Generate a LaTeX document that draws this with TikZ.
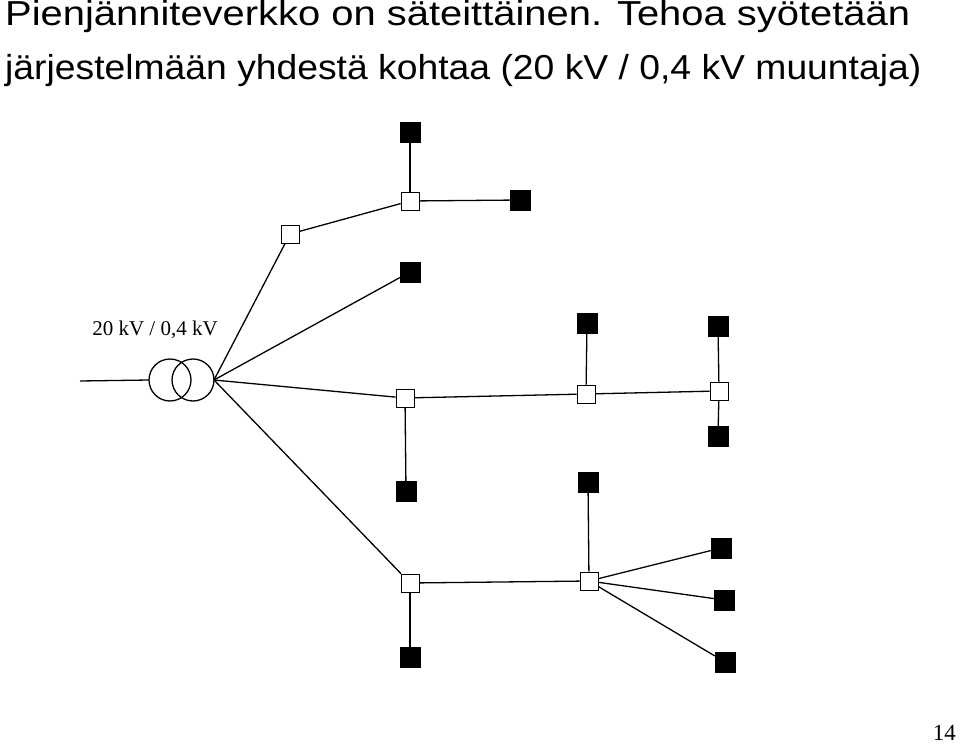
\documentclass[tikz,border=0pt]{standalone}
\usepackage{fontspec}
\usepackage{graphicx}
\setmainfont{Liberation Serif}
\setsansfont{Liberation Sans}
\begin{document}
\begin{tikzpicture}[x=1pt,y=-1pt,
  wsq/.style={draw,fill=white,minimum size=18pt,inner sep=0pt,line width=0.8pt},
  bsq/.style={draw,fill=black,minimum size=20pt,inner sep=0pt},
  ln/.style={line width=1.3pt}]
\useasboundingbox (0,0) rectangle (960,746);
\node[anchor=base west,font=\sffamily\fontsize{33}{33}\selectfont,inner sep=0pt] (t1) at (5,26) {\scalebox{1.21}[1.05]{Pienjänniteverkko on säteittäinen. Tehoa syötetään}};
\node[anchor=base west,font=\sffamily\fontsize{33}{33}\selectfont,inner sep=0pt] (t2) at (5,80) {\scalebox{1.13}[1.05]{järjestelmään yhdestä kohtaa (20 kV / 0,4 kV muuntaja)}};
\node[font=\fontsize{21}{21}\selectfont] (lab) at (155,330) {20 kV / 0,4 kV};
\node[font=\fontsize{23}{23}\selectfont,anchor=base east,inner sep=0pt] (pg) at (956,740) {14};
\draw[ln] (170,380) circle (21);
\draw[ln] (193,380) circle (21);
\coordinate (in) at (80,381);
\coordinate (tr) at (214,380);
\draw[ln] (in) -- (149,380);
\foreach \n/\x/\y in {A/290/234,B/410/201,C/405/398,D/586/394,E/719/391,F/410/583,G/589/581}
  \node[wsq] (\n) at (\x,\y) {};
\foreach \n/\x/\y in {b1/410/132,b2/520/200,b3/410/272,b4/587/323,b5/718/326,b6/406/491,b7/718/436,b8/588/482,b9/721/548,b10/724/600,b11/725/662,b12/410/657}
  \node[bsq] (\n) at (\x,\y) {};
\foreach \a/\b in {tr/A,A/B,B/b1,B/b2,tr/b3,tr/C,C/D,D/E,C/b6,D/b4,E/b5,E/b7,tr/F,F/G,F/b12,G/b8,G/b9,G/b10,G/b11}
  \draw[ln] (\a) -- (\b);
\foreach \n/\x/\y in {A/290/234,B/410/201,C/405/398,D/586/394,E/719/391,F/410/583,G/589/581}
  \node[wsq] at (\x,\y) {};
\end{tikzpicture}
\end{document}
